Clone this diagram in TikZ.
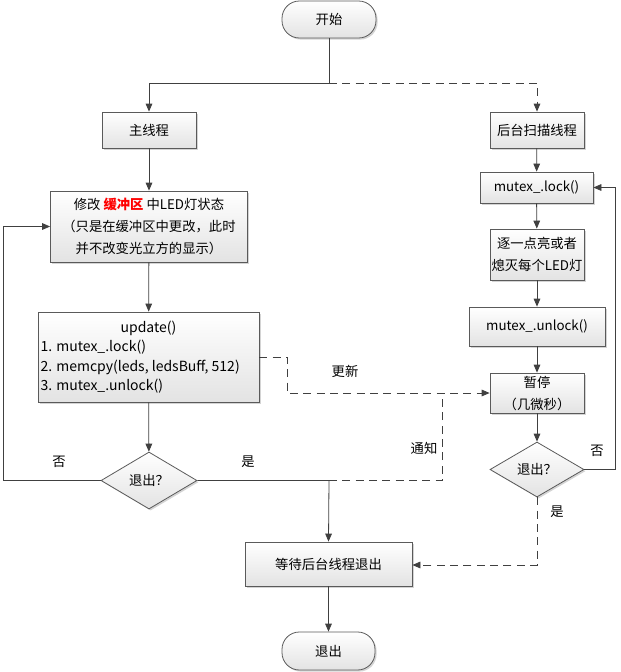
\documentclass[tikz,border=0pt]{standalone}
\usepackage{fontspec}
\setmainfont{Noto Sans CJK SC}
\usetikzlibrary{shapes.geometric,arrows.meta,shadows}
\definecolor{lc}{HTML}{404040}
\definecolor{bc}{HTML}{5A5A5A}
\begin{document}
\begin{tikzpicture}[x=0.75pt,y=-0.75pt,
  font=\fontsize{10}{16.5}\selectfont,
  base/.style={draw=bc,line width=0.6pt,top color=white,bottom color=black!11,
    drop shadow={shadow xshift=1.2pt,shadow yshift=-1.2pt,fill=black!28,opacity=0.6},
    inner sep=1pt,align=center},
  boxn/.style={base,rectangle},
  termn/.style={base,rectangle,rounded corners=13pt},
  decn/.style={base,diamond,aspect=1.7,inner sep=0pt},
  conn/.style={draw=lc,line width=0.6pt,-{Triangle[length=6pt,width=5pt]}},
  plain/.style={draw=lc,line width=0.6pt},
  dconn/.style={conn,dash pattern=on 6pt off 4pt},
  dplain/.style={plain,dash pattern=on 6pt off 4pt},
  lbl/.style={inner sep=0pt}
]
\useasboundingbox (0,0) rectangle (621,672);

\node[termn,minimum width=70.5pt,minimum height=27.75pt] (start) at (329,19.5) {开始};
\node[boxn,minimum width=70.5pt,minimum height=27pt] (main) at (149,130) {主线程};
\node[boxn,minimum width=70.5pt,minimum height=27pt] (bg) at (537,130) {后台扫描线程};
\node[boxn,minimum width=147.75pt,minimum height=53.25pt] (modify) at (149,226.5)
  {修改 \textbf{\textcolor{red}{缓冲区}} 中LED灯状态\\（只是在缓冲区中更改，此时\\并不改变光立方的显示）};
\node[boxn,minimum width=84.75pt,minimum height=23.25pt] (lock) at (536.5,187.5) {mutex\_.lock()};
\node[boxn,minimum width=70.5pt,minimum height=38.25pt] (each) at (537,254.5) {逐一点亮或者\\熄灭每个LED灯};
\node[boxn,minimum width=102pt,minimum height=29.25pt] (unlock) at (537,326.5) {mutex\_.unlock()};
\node[boxn,minimum width=70.5pt,minimum height=30pt] (pause) at (537,393) {暂停\\（几微秒）};
\node[decn,minimum width=70.5pt,minimum height=41.25pt] (dR) at (537,469.5) {退出？};
\node[boxn,minimum width=165.75pt,minimum height=67.5pt] (update) at (148.5,357)
  {\begin{minipage}{162pt}\fontsize{10.5}{14.6}\selectfont\centering update()\par\raggedright
   1. mutex\_.lock()\\2. memcpy(leds, ledsBuff, 512)\\3. mutex\_.unlock()\end{minipage}};
\node[decn,minimum width=72pt,minimum height=42.75pt] (dL) at (149,480.5) {退出？};
\node[boxn,minimum width=125.25pt,minimum height=33pt] (wait) at (328.5,564) {等待后台线程退出};
\node[termn,minimum width=69.75pt,minimum height=28.5pt] (end) at (328.5,651) {退出};

\coordinate (fork) at (329,83);
\coordinate (joinL) at (329,480.5);
\coordinate (leftL) at (3,480.5);
\coordinate (leftU) at (3,226.5);
\coordinate (upd1) at (287,357);
\coordinate (upd2) at (287,393);
\coordinate (ntf1) at (442,480.5);
\coordinate (ntf2) at (442,393);
\coordinate (rR1) at (615,469.5);
\coordinate (rR2) at (615,187.5);
\coordinate (rB) at (537,565);

\draw[plain] (start.south) -- (fork);
\draw[conn] (fork) -| (main.north);
\draw[dconn] (fork) -| (bg.north);
\draw[conn] (main) -- (modify);
\draw[conn] (modify) -- (update);
\draw[conn] (update) -- (dL);
\draw[conn] (dL.west) -- (leftL) -- (leftU) -- (modify.west);
\draw[conn] (dL.east) -- (joinL) -- (wait.north);
\draw[dplain] (joinL) -- (ntf1) -- (ntf2);
\draw[dconn] (update.east |- upd1) -- (upd1) -- (upd2) -- (pause.west);
\draw[conn] (bg) -- (lock);
\draw[conn] (lock) -- (each);
\draw[conn] (each) -- (unlock);
\draw[conn] (unlock) -- (pause);
\draw[conn] (pause) -- (dR);
\draw[conn] (dR.east) -- (rR1) -- (rR2) -- (lock.east);
\draw[dconn] (dR.south) -- (rB) -- (wait.east |- rB);
\draw[conn] (wait) -- (end);

\node[lbl] (l1) at (59,462) {否};
\node[lbl] (l2) at (248,462) {是};
\node[lbl] (l3) at (345,371) {更新};
\node[lbl] (l4) at (424,448) {通知};
\node[lbl] (l5) at (597,451) {否};
\node[lbl] (l6) at (557,512) {是};
\end{tikzpicture}
\end{document}
